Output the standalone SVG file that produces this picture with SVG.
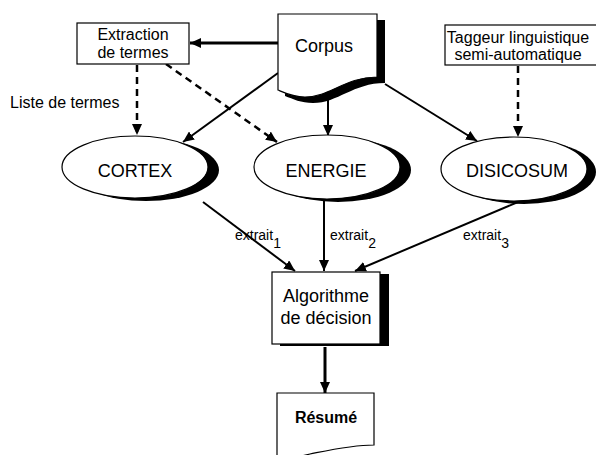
<svg xmlns="http://www.w3.org/2000/svg" width="596" height="455" viewBox="0 0 596 455">
<defs>
<marker id="ah" markerUnits="userSpaceOnUse" markerWidth="12" markerHeight="10" refX="11" refY="5" orient="auto">
<path d="M0,0 L11,5 L0,10 Z" fill="#000"/>
</marker>
<style>
text{font-family:"Liberation Sans",Arial,sans-serif;fill:#000}
.t16{font-size:16px}
.t18{font-size:18px}
.t14{font-size:14px}
.box{fill:#fff;stroke:#000;stroke-width:1.2}
.sh{fill:#000}
.ln{fill:none;stroke:#000;stroke-width:2}
.thick{fill:none;stroke:#000;stroke-width:3}
.dash{fill:none;stroke:#000;stroke-width:2.5;stroke-dasharray:7,5}
</style>
</defs>
<rect width="596" height="455" fill="#fff"/>
<g id="connectors">
<line class="thick" x1="278" y1="43" x2="190" y2="43" marker-end="url(#ah)"/>
<line class="dash" x1="137" y1="65" x2="137" y2="135" marker-end="url(#ah)"/>
<line class="dash" x1="166" y1="64" x2="277" y2="142" marker-end="url(#ah)"/>
<line class="ln" x1="278" y1="73" x2="183" y2="142" marker-end="url(#ah)"/>
<line class="ln" x1="328" y1="100" x2="328" y2="136" marker-end="url(#ah)"/>
<line class="ln" x1="385" y1="84" x2="477" y2="141" marker-end="url(#ah)"/>
<line class="dash" x1="518" y1="66" x2="518" y2="137" marker-end="url(#ah)"/>
<line class="ln" x1="203" y1="202" x2="295" y2="271" marker-end="url(#ah)"/>
<line class="ln" x1="324" y1="201" x2="324" y2="271" marker-end="url(#ah)"/>
<line class="ln" x1="518" y1="202" x2="355" y2="271" marker-end="url(#ah)"/>
<line class="thick" x1="325" y1="347" x2="325" y2="393" marker-end="url(#ah)"/>
<text class="t16" x="10" y="108">Liste de termes</text>
<text class="t14" x="235" y="240">extrait<tspan dy="8">1</tspan></text>
<text class="t14" x="330" y="240">extrait<tspan dy="8">2</tspan></text>
<text class="t14" x="463" y="240">extrait<tspan dy="8">3</tspan></text>
</g>
<g id="extraction">
<rect class="box" x="77" y="23" width="112" height="41"/>
<text class="t16" x="133" y="40" text-anchor="middle">Extraction</text>
<text class="t16" x="133" y="58" text-anchor="middle">de termes</text>
</g>
<g id="corpus">
<path class="sh" d="M285,20 H385 V83 C353,83 338,103 313,103 C301,103 293,99 285,96 Z"/>
<path class="box" d="M278,14 H377 V77 C345,77 330,97 305,97 C293,97 285,93 278,90 Z"/>
<text class="t18" x="324" y="52" text-anchor="middle">Corpus</text>
</g>
<g id="tagger">
<rect class="box" x="445" y="25" width="155" height="40"/>
<text class="t16" x="518" y="43" text-anchor="middle">Taggeur linguistique</text>
<text class="t16" x="518" y="60" text-anchor="middle">semi-automatique</text>
</g>
<g id="cortex">
<ellipse class="sh" cx="146" cy="170" rx="73" ry="31"/>
<ellipse class="box" cx="135" cy="167" rx="73" ry="31" stroke-width="1"/>
<text class="t18" x="135" y="177" text-anchor="middle">CORTEX</text>
</g>
<g id="energie">
<ellipse class="sh" cx="338" cy="170" rx="73" ry="32"/>
<ellipse class="box" cx="327" cy="167" rx="73" ry="32" stroke-width="1"/>
<text class="t18" x="326" y="177" text-anchor="middle">ENERGIE</text>
</g>
<g id="disicosum">
<ellipse class="sh" cx="524" cy="172" rx="72" ry="32"/>
<ellipse class="box" cx="514" cy="169" rx="73" ry="32" stroke-width="1"/>
<text class="t18" x="517" y="177" text-anchor="middle">DISICOSUM</text>
</g>
<g id="algorithme">
<rect class="sh" x="280" y="274" width="109" height="72"/>
<rect class="box" x="272" y="272" width="108" height="72"/>
<text class="t18" x="326" y="302" text-anchor="middle">Algorithme</text>
<text class="t18" x="326" y="324" text-anchor="middle">de décision</text>
</g>
<g id="resume">
<path class="box" d="M277,393 H374 V445 C352,445 330,450 310,454 C298,457 288,459 277,459 Z"/>
<text class="t16" x="326" y="423" text-anchor="middle" font-weight="bold">Résumé</text>
</g>
</svg>
